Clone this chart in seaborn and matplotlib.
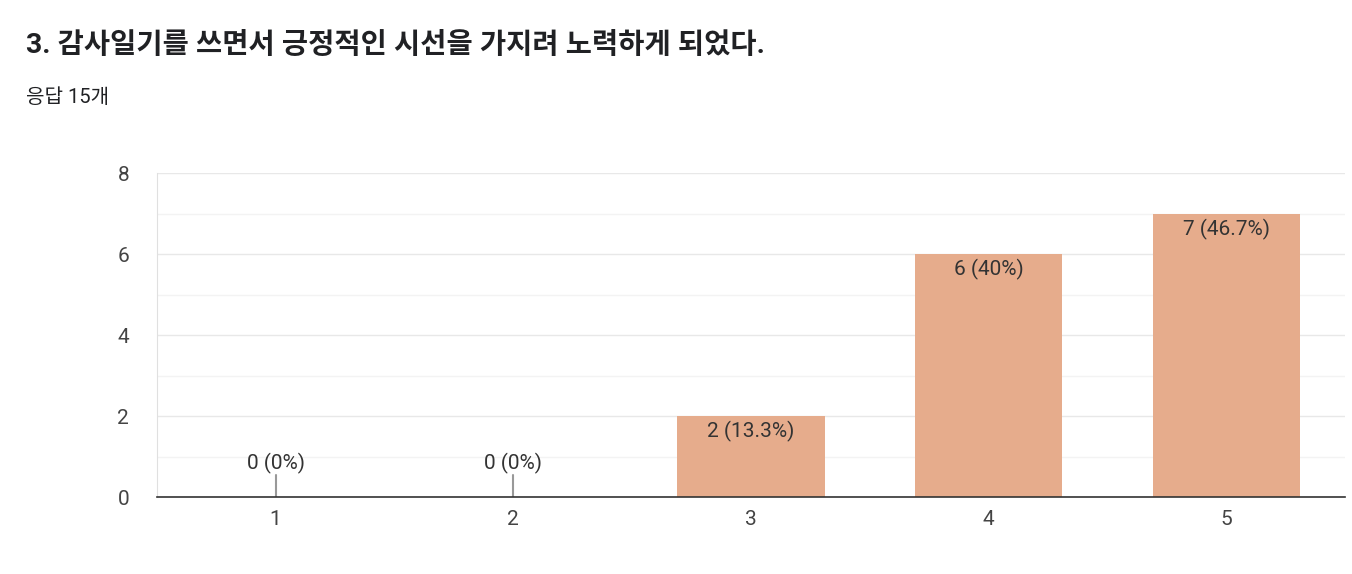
import matplotlib
matplotlib.use("Agg")
import matplotlib.pyplot as plt
import seaborn as sns
import pandas as pd

categories = ["1", "2", "3", "4", "5"]
counts = [0, 0, 2, 6, 7]
labels = ["0 (0%)", "0 (0%)", "2 (13.3%)", "6 (40%)", "7 (46.7%)"]
yticks = [0, 2, 4, 6, 8]
title = "3. 감사일기를 쓰면서 긍정적인 시선을 가지려 노력하게 되었다."
subtitle = "응답 15개"

sns.set_style("white")
plt.rcParams['font.family'] = ['Roboto', 'Noto Sans CJK KR', 'DejaVu Sans']

fig = plt.figure(figsize=(13.52, 5.74), dpi=100)
fig.text(0.019, 0.92, title, fontsize=20.5, fontweight='bold', color='#202124', va='center')
fig.text(0.019, 0.83, subtitle, fontsize=14.5, color='#202124', va='center')

ax = fig.add_axes([0.116, 0.134, 0.879, 0.564])
df = pd.DataFrame({"cat": categories, "n": counts})
sns.barplot(data=df, x="cat", y="n", color="#E6AC8C", saturation=1, width=0.62,
            edgecolor='none', linewidth=0, ax=ax)

ax.set_ylim(0, 8)
ax.set_xlim(-0.5, 4.5)
ax.set_yticks(yticks)
ax.set_yticks([1, 3, 5, 7], minor=True)
ax.grid(axis='y', which='major', color='#e8e8e8', lw=1)
ax.grid(axis='y', which='minor', color='#f3f3f3', lw=1)
ax.set_axisbelow(True)
for s in ['top', 'right']:
    ax.spines[s].set_visible(False)
ax.spines['left'].set_color('#e0e0e0')
ax.spines['bottom'].set_color('#333333')
ax.spines['bottom'].set_linewidth(1.2)
ax.tick_params(axis='both', length=0, labelsize=15, colors='#444444')
ax.tick_params(axis='y', pad=20)
ax.tick_params(axis='x', pad=9)
ax.set_xlabel("")
ax.set_ylabel("")

for i, (v, lab) in enumerate(zip(counts, labels)):
    if v == 0:
        ax.plot([i, i], [0, 0.55], color='#999999', lw=1.5)
        ax.text(i, 0.58, lab, ha='center', va='bottom', fontsize=15, color='#333333')
    else:
        ax.text(i, v - 0.12, lab, ha='center', va='top', fontsize=15, color='#333333')

fig.savefig("out.png", dpi=100)
